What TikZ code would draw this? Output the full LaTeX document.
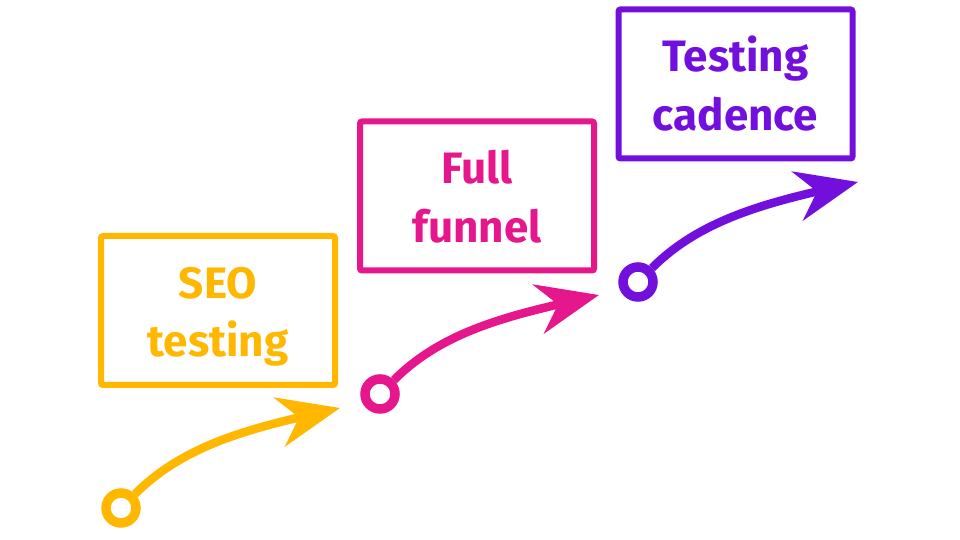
\documentclass[tikz,border=0pt]{standalone}
\usepackage{fontspec}
\setmainfont{Fira Sans}
\usetikzlibrary{arrows.meta}
\definecolor{stepyellow}{RGB}{255,183,0}
\definecolor{steppink}{RGB}{230,22,140}
\definecolor{steppurple}{RGB}{115,15,220}

\begin{document}
\begin{tikzpicture}[x=1pt,y=1pt,
        box/.style={rectangle,rounded corners=2pt,draw,line width=6pt,
          minimum width=234pt,minimum height=149pt,align=center,
          font=\fontsize{44}{58.4}\selectfont\bfseries,
          text height=102.4pt,text depth=10pt},
        dot/.style={circle,draw,line width=9.5pt,fill=white,minimum size=30pt,inner sep=0pt},
        arrow/.style={line width=8.5pt,-{Stealth[length=62pt,width=50pt,inset=20pt]}}]
        \useasboundingbox (0,0) rectangle (960,540);
        % step 1
        \node[box,draw=stepyellow,text=stepyellow] (seo) at (218,229.5) {SEO\\testing};
        \node[dot,draw=stepyellow] (c1) at (121,32) {};
        \coordinate (t1) at (340,132);
        \draw[arrow,stepyellow] (c1) .. controls +(45:80) and +(193:110) .. (t1);
        % step 2
        \node[box,draw=steppink,text=steppink] (funnel) at (477,344) {Full\\funnel};
        \node[dot,draw=steppink] (c2) at (380,146) {};
        \coordinate (t2) at (599,245);
        \draw[arrow,steppink] (c2) .. controls +(45:80) and +(193:110) .. (t2);
        % step 3
        \node[box,draw=steppurple,text=steppurple] (cadence) at (735.5,456) {Testing\\cadence};
        \node[dot,draw=steppurple] (c3) at (638,258) {};
        \coordinate (t3) at (858,358);
        \draw[arrow,steppurple] (c3) .. controls +(45:80) and +(193:110) .. (t3);
      \end{tikzpicture}
\end{document}
